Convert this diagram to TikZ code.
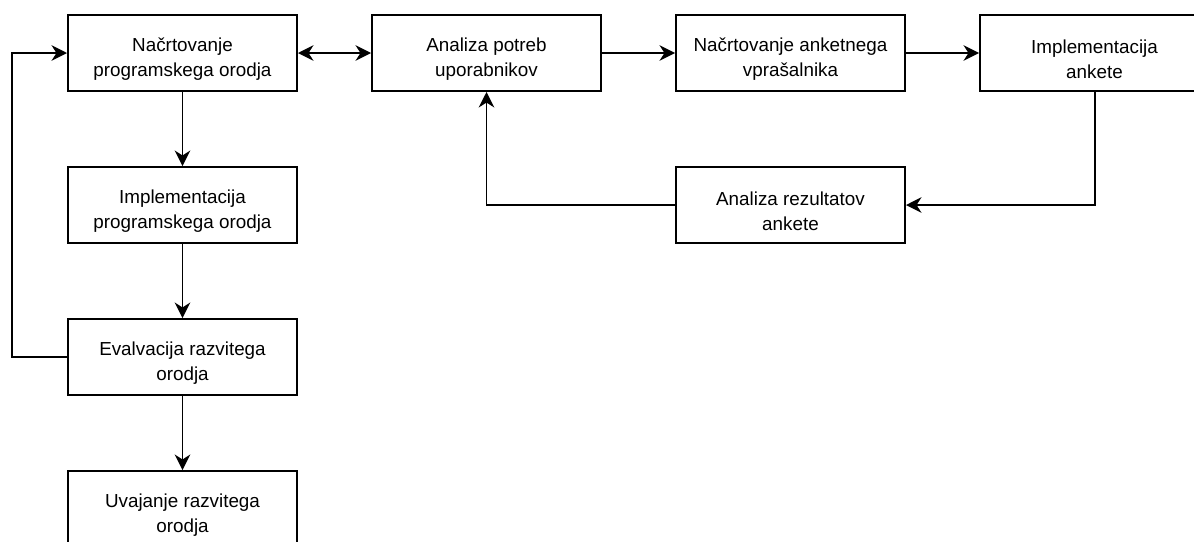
\documentclass[tikz,border=0pt]{standalone}
\usepackage{fontspec}
\setmainfont{Liberation Sans}
\usetikzlibrary{positioning,arrows.meta}

\begin{document}
\begin{tikzpicture}[%
    >={Stealth[length=11pt,width=11pt,inset=3.5pt]}, % drawio-like arrows
    node distance=3.8cm and 7.6cm, % Global setup of box spacing
    line width=1.4pt,
    ]
% -------------------------------------------------
% Box and connector styles
\tikzset{
  base/.style={draw, on grid, align=center, inner sep=0pt,
    minimum width=5.725cm, minimum height=1.9cm,
    font=\fontsize{13.4}{17.8}\selectfont,
    execute at begin node={\rule{0pt}{36.5pt}}},
  box/.style={base, fill=white},
  norm/.style={->, draw},
}
\clip (0,0) rectangle (29.85,-13.525);
% -------------------------------------------------
% Start by placing the nodes
\node [box] (a) at (4.5625,-1.325) {Načrtovanje\\programskega orodja};
\node [box, below = of a] (b) {Implementacija\\programskega orodja};
\node [box, below = of b] (c) {Evalvacija razvitega\\orodja};
\node [box, below = of c] (d) {Uvajanje razvitega\\orodja};
\node [box, right = of a] (e) {Analiza potreb\\uporabnikov};
\node [box, right = of e] (f) {Načrtovanje anketnega\\vprašalnika};
\node [box, right = of f] (g) {Implementacija\\ankete};
\node [box, below = of f] (h) {Analiza rezultatov\\ankete};

% -------------------------------------------------
% Connectors
\draw [norm] (a) -- (b);
\draw [norm] (b) -- (c);
\draw [norm] (c) -- (d);
\draw [norm] (c.west) -- ++(-1.375,0) |- (a.west);
\draw [<->] (a) -- (e);
\draw [norm] (e) -- (f);
\draw [norm] (f) -- (g);
\draw [norm] (g.south) |- (h.east);
\draw [norm] (h.west) -| (e.south);
\end{tikzpicture}
\end{document}
